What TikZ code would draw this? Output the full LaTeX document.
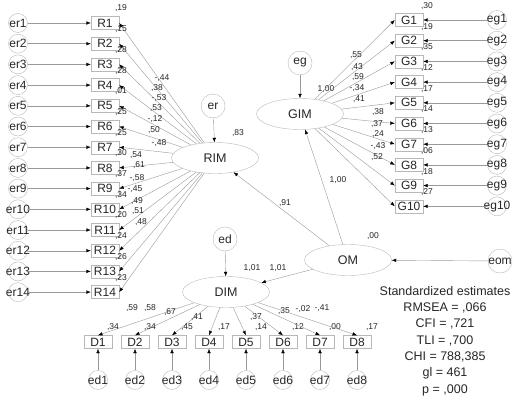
\documentclass[tikz,border=0pt]{standalone}
\usepackage{fontspec}
\setmainfont{Liberation Sans}
\usetikzlibrary{shapes.geometric}
\usetikzlibrary{arrows.meta}

\definecolor{linegray}{gray}{0.6}
\definecolor{boxgray}{gray}{0.72}
\definecolor{ink}{gray}{0.15}

\tikzset{
  var/.style={draw=boxgray, rectangle, minimum width=28pt, minimum height=13pt, inner sep=1pt, text=ink, font=\fontsize{12}{14}\selectfont},
  lat/.style={draw=boxgray, ellipse, minimum width=87pt, minimum height=31pt, inner sep=0pt, text=ink, font=\fontsize{12.5}{14}\selectfont},
  err/.style={draw=boxgray, circle, minimum size=19pt, inner sep=0pt, label={[text=ink, font=\fontsize{12}{14}\selectfont]center:#1}},
  disturb/.style={err=#1, minimum size=24pt},
  est/.style={inner sep=0pt, text=ink, font=\fontsize{8.5}{10}\selectfont},
  link/.style={draw=linegray, line width=0.4pt, -{Latex[length=4.5pt,width=3.5pt,black]}}
}

\begin{document}
\begin{tikzpicture}[x=1pt,y=-1pt]
        \useasboundingbox (0,0) rectangle (518,404);

        % Latent factors
        \node[lat] (RIM) at (215,158) {RIM};
        \node[lat] (GIM) at (300,114) {GIM};
        \node[lat] (OM) at (348,260) {OM};
        \node[lat] (DIM) at (226,292) {DIM};

        % Disturbances
        \node[disturb=er] (er) at (213,106) {};
        \node[disturb=eg] (eg) at (300,63) {};
        \node[disturb=ed] (ed) at (225,239) {};
        \node[disturb=eom] (eom) at (500,261) {};
        \draw[link] (er) -- (RIM);
        \draw[link] (eg) -- (GIM);
        \draw[link] (ed) -- (DIM);
        \draw[link] (eom) -- (OM);
        \node[est] (rimsq) at (238,133) {,83};
        \node[est] (gimsq) at (326,89) {1,00};
        \node[est] (dimsq) at (252,268) {1,01};
        \node[est] (omsq) at (373,236) {,00};

        % Structural paths
        \draw[link] (OM) -- (RIM);
        \draw[link] (OM) -- (GIM);
        \draw[link] (OM) -- (DIM);
        \node[est] (omrim) at (285,203) {,91};
        \node[est] (omgim) at (338,180) {1,00};
        \node[est] (omdim) at (278,268) {1,01};

        % RIM indicators
        \foreach \i/\ld/\sq/\lx/\ly in {1/{-,44}/{,19}/162/78, 2/{,38}/{,15}/157/88,
            3/{-,53}/{,28}/159/98, 4/{,53}/{,28}/156/108, 5/{-,12}/{,01}/155/119,
            6/{,50}/{,25}/154/130, 7/{-,48}/{,25}/159/143, 8/{,54}/{,30}/136/155,
            9/{,61}/{,37}/139/165, 10/{-,58}/{,34}/137/178, 11/{-,45}/{,20}/135/189,
            12/{,49}/{,24}/137/201, 13/{,51}/{,26}/138/211, 14/{,48}/{,23}/141/222} {
          \node[var] (R\i) at (105,{23+(\i-1)*20.7}) {R\i};
          \node[err=er\i] (er\i) at (18,{23+(\i-1)*20.7}) {};
          \draw[link] (er\i) -- (R\i);
          \draw[link] (RIM) -- (R\i.east);
          \node[est] (rl\i) at (\lx,\ly) {\ld};
          \node[est] (rs\i) at (121,{8.5+(\i-1)*20.7}) {\sq};
        }

        % GIM indicators
        \foreach \i/\ld/\sq/\lx/\ly in {1/{,55}/{,30}/356/55, 2/{,43}/{,19}/357/67,
            3/{,59}/{,35}/358/77, 4/{-,34}/{,12}/357/88, 5/{,41}/{,17}/359/99,
            6/{,38}/{,14}/378/112, 7/{,37}/{,13}/377/124, 8/{,24}/{,06}/378/134,
            9/{-,43}/{,18}/378/146, 10/{,52}/{,27}/377/157} {
          \node[var] (G\i) at (409,{20+(\i-1)*20.7}) {G\i};
          \node[err=eg\i] (eg\i) at (497,{20+(\i-1)*20.7}) {};
          \draw[link] (eg\i) -- (G\i);
          \draw[link] (GIM) -- (G\i.west);
          \node[est] (gl\i) at (\lx,\ly) {\ld};
          \node[est] (gs\i) at (427,{6+(\i-1)*20.7}) {\sq};
        }

        % DIM indicators
        \foreach \i/\ld/\sq/\lx/\ly in {1/{,59}/{,34}/132/308, 2/{,58}/{,34}/150/308,
            3/{,67}/{,45}/170/312, 4/{,41}/{,17}/197/317, 5/{,37}/{,14}/256/317,
            6/{,35}/{,12}/284/311, 7/{-,02}/{,00}/303/309, 8/{-,41}/{,17}/322/308} {
          \node[var] (D\i) at ({98+(\i-1)*37},342) {D\i};
          \node[err=ed\i] (ed\i) at ({98+(\i-1)*37},380) {};
          \draw[link] (ed\i) -- (D\i);
          \draw[link] (DIM) -- (D\i.north);
          \node[est] (dl\i) at (\lx,\ly) {\ld};
          \node[est] (ds\i) at ({113+(\i-1)*37},327) {\sq};
        }

        % Fit
        \node[align=center, text=ink, font=\fontsize{12.5}{16.3}\selectfont] (fit) at (445,341)
          {Standardized estimates\\RMSEA = ,066\\CFI = ,721\\TLI = ,700\\CHI = 788,385\\gl = 461\\p = ,000};
      \end{tikzpicture}
\end{document}
